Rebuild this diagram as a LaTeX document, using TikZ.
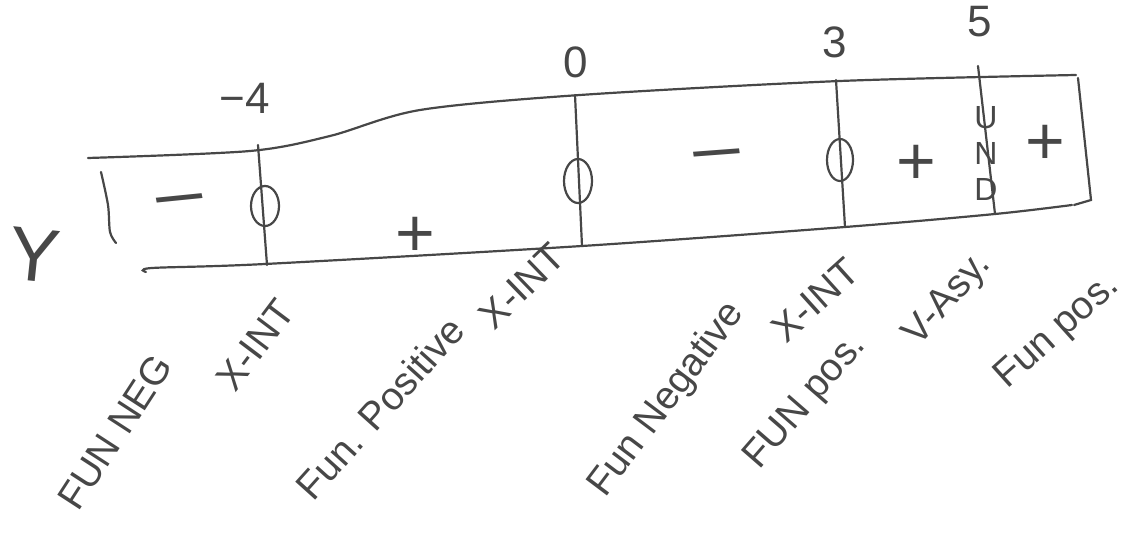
\documentclass[tikz,border=0pt]{standalone}
\usepackage{fontspec}
\setmainfont{Liberation Sans}
\begin{document}
\begin{tikzpicture}[x=1pt,y=-1pt,line width=2.2pt,color=black!72,line cap=round,
 lbl/.style={font=\fontsize{39}{44}\selectfont},
 sgn/.style={font=\fontsize{68}{72}\selectfont},
 num/.style={font=\fontsize{44}{48}\selectfont}]
 \useasboundingbox (0,0) rectangle (1134,534);
 \draw[smooth] plot coordinates {(88,158)(250,151)(330,136)(420,110)(580,95)(840,81)(1076,75)};
 \draw[smooth] plot coordinates {(146,272)(152,268)(265,264)(582,246)(845,227)(995,214)(1072,205)};
 \draw (1078,78) -- (1091,200) -- (1074,205);
 \draw[smooth] plot coordinates {(101,172)(108,205)(110,232)(116,243)};
 \node[font=\fontsize{76}{76}\selectfont,rotate=-6] (ylab) at (34,255) {Y};
 \draw (258,145) -- (267,265);
 \draw (575,95) -- (582,246);
 \draw (836,80) -- (845,227);
 \draw (978,66) -- (995,214);
 \node[num] (m4) at (245,98) {−4};
 \node[num] (z0) at (576,62) {0};
 \node[num] (t3) at (835,42) {3};
 \node[num] (f5) at (980,22) {5};
 \draw (265,206) ellipse [x radius=14,y radius=20];
 \draw (578,181) ellipse [x radius=14,y radius=22];
 \draw (840,160) ellipse [x radius=13,y radius=21];
 \node[font=\fontsize{32}{36}\selectfont,align=center] (und) at (986,153) {U\\N\\D};
 \node[sgn,xscale=1.4,rotate=8] (s1) at (182,208) {−};
 \node[sgn] (s2) at (415,237) {+};
 \node[sgn,xscale=1.4,rotate=6] (s3) at (718,163) {−};
 \node[sgn] (s4) at (916,165) {+};
 \node[sgn] (s5) at (1045,145) {+};
 \node[lbl,rotate=57] (l1) at (115,432) {FUN NEG};
 \node[lbl,rotate=53] (l2) at (255,345) {X-INT};
 \node[lbl,rotate=48] (l3) at (380,408) {Fun. Positive};
 \node[lbl,rotate=44] (l4) at (522,286) {X-INT};
 \node[lbl,rotate=53] (l5) at (667,400) {Fun Negative};
 \node[lbl,rotate=42] (l6) at (815,300) {X-INT};
 \node[lbl,rotate=49] (l7) at (806,402) {FUN pos.};
 \node[lbl,rotate=48] (l8) at (948,300) {V-Asy.};
 \node[lbl,rotate=42] (l9) at (1058,332) {Fun pos.};
\end{tikzpicture}
\end{document}
